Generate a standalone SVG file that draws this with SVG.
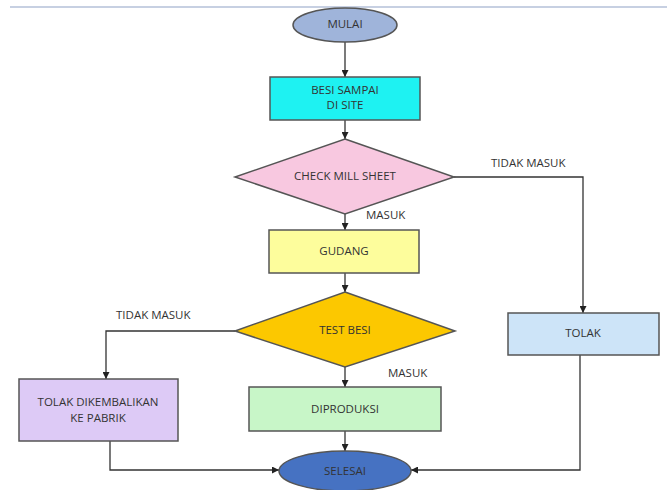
<svg xmlns="http://www.w3.org/2000/svg" width="667" height="490" viewBox="0 0 667 490">
<defs>
<marker id="arr" viewBox="0 0 10 10" refX="10" refY="5" markerWidth="7" markerHeight="7" orient="auto" markerUnits="userSpaceOnUse">
<path d="M0,0 L10,5 L0,10 z" fill="#222"/>
</marker>
</defs>
<style>
.sh{stroke:#555;stroke-width:1.5}
.t{font-family:"Open Sans","Liberation Sans",sans-serif;font-size:11.5px;fill:#333;text-anchor:middle;dominant-baseline:middle}
.lb{font-family:"Open Sans","Liberation Sans",sans-serif;font-size:11.5px;fill:#333}
.c{fill:none;stroke:#333;stroke-width:1.3}
</style>
<rect width="667" height="490" fill="#fff"/>
<line x1="10" y1="7" x2="667" y2="7" stroke="#b4c0d8" stroke-width="1.5"/>
<g id="connectors">
<path class="c" d="M345,42 V77" marker-end="url(#arr)"/>
<path class="c" d="M345,120 V139" marker-end="url(#arr)"/>
<path class="c" d="M345,214 V230" marker-end="url(#arr)"/>
<path class="c" d="M345,273 V292" marker-end="url(#arr)"/>
<path class="c" d="M345,367 V387" marker-end="url(#arr)"/>
<path class="c" d="M345,431 V451" marker-end="url(#arr)"/>
<path class="c" d="M454,177 H583 V313" marker-end="url(#arr)"/>
<path class="c" d="M235,331 H106 V379" marker-end="url(#arr)"/>
<path class="c" d="M110,441 V470 H279" marker-end="url(#arr)"/>
<path class="c" d="M580,355 V470 H411" marker-end="url(#arr)"/>
<text class="lb" x="491" y="167">TIDAK MASUK</text>
<text class="lb" x="366" y="219">MASUK</text>
<text class="lb" x="116" y="319">TIDAK MASUK</text>
<text class="lb" x="388" y="377">MASUK</text>
</g>
<g id="mulai">
<ellipse class="sh" cx="345" cy="25" rx="52" ry="17" fill="#9fb4da"/>
<text class="t" x="345" y="25">MULAI</text>
</g>
<g id="besi-sampai">
<rect class="sh" x="270" y="77" width="150" height="43" fill="#1ef2f2"/>
<text class="t" x="345" y="91">BESI SAMPAI</text>
<text class="t" x="345" y="106">DI SITE</text>
</g>
<g id="check-mill-sheet">
<polygon class="sh" points="345,139 454,177 345,214 235,177" fill="#f8c8e0"/>
<text class="t" x="345" y="177">CHECK MILL SHEET</text>
</g>
<g id="gudang">
<rect class="sh" x="269" y="230" width="150" height="43" fill="#fdfd9c"/>
<text class="t" x="344" y="252">GUDANG</text>
</g>
<g id="test-besi">
<polygon class="sh" points="345,292 455,331 345,367 235,331" fill="#fcc800"/>
<text class="t" x="345" y="331">TEST BESI</text>
</g>
<g id="tolak-dikembalikan">
<rect class="sh" x="19" y="379" width="159" height="62" fill="#ddcaf6"/>
<text class="t" x="98" y="403">TOLAK DIKEMBALIKAN</text>
<text class="t" x="98" y="419">KE PABRIK</text>
</g>
<g id="diproduksi">
<rect class="sh" x="249" y="387" width="192" height="44" fill="#c8f6c8"/>
<text class="t" x="345" y="410">DIPRODUKSI</text>
</g>
<g id="tolak">
<rect class="sh" x="508" y="313" width="151" height="42" fill="#cde4f8"/>
<text class="t" x="583" y="334">TOLAK</text>
</g>
<g id="selesai">
<ellipse class="sh" cx="345" cy="471" rx="66" ry="20" fill="#4672c2"/>
<text class="t" x="345" y="472">SELESAI</text>
</g>
</svg>
